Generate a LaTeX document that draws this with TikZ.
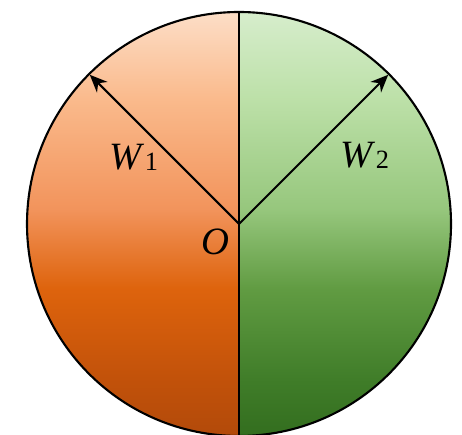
\documentclass[tikz,border=0pt]{standalone}
\usepackage{fontspec}
\setmainfont{Liberation Serif}
\usepackage{tikz}
\usetikzlibrary{arrows.meta}

% vertical fills of the two halves (path box spans 25bp to 75bp)
\pgfdeclareverticalshading{peachfill}{100bp}{%
    rgb(0bp)=(0.70,0.29,0.04); rgb(25bp)=(0.70,0.29,0.04);
    rgb(31.7bp)=(0.76,0.32,0.04); rgb(42.4bp)=(0.87,0.39,0.05);
    rgb(51.8bp)=(0.95,0.58,0.36); rgb(64.8bp)=(0.98,0.73,0.55);
    rgb(75bp)=(0.99,0.87,0.78); rgb(100bp)=(0.99,0.87,0.78)}
\pgfdeclareverticalshading{greenfill}{100bp}{%
    rgb(0bp)=(0.20,0.43,0.12); rgb(25bp)=(0.20,0.43,0.12);
    rgb(31.7bp)=(0.25,0.49,0.16); rgb(42.4bp)=(0.38,0.61,0.26);
    rgb(51.8bp)=(0.59,0.78,0.49); rgb(64.8bp)=(0.74,0.88,0.66);
    rgb(75bp)=(0.84,0.93,0.80); rgb(100bp)=(0.84,0.93,0.80)}

\newcommand{\wlabel}[1]{\textit{W}\raisebox{-0.05ex}{\fontsize{15}{17}\selectfont #1}}

\begin{document}
\begin{tikzpicture}[
    x=0.02cm, y=0.02cm,
    rim/.style={draw=black, line width=1.2pt},
    vec/.style={-{Stealth[length=10pt,width=8.5pt]}, line width=1.2pt},
    lbl/.style={font=\fontsize{22}{26}\selectfont, inner sep=0pt}
    ]
    \useasboundingbox (0,0) rectangle (462,435);
    \coordinate (O) at (239,211);
    \coordinate (top) at (239,423);
    \coordinate (bot) at (239,-1);
    % two shaded halves
    \shade[shading=peachfill] (top) arc (90:270:212) -- cycle;
    \shade[shading=greenfill] (top) arc (90:-90:212) -- cycle;
    \draw[rim] (O) circle (212);
    \draw[rim] (top) -- (bot);
    % vectors
    \coordinate (tipL) at ([shift={(135:211)}]O);
    \coordinate (tipR) at ([shift={(45:211)}]O);
    \draw[vec] (O) -- (tipL);
    \draw[vec] (O) -- (tipR);
    \node[lbl] (w1) at (134,278) {\wlabel{1}};
    \node[lbl] (w2) at (365,280) {\wlabel{2}};
    \node[lbl] (o)  at (215,193) {\textit{O}};
\end{tikzpicture}
\end{document}
